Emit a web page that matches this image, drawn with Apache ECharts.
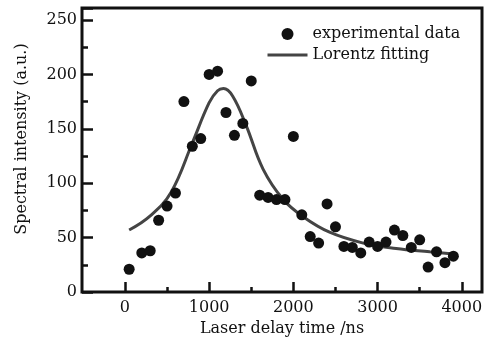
<!DOCTYPE html>
<html>
<head>
<meta charset="utf-8">
<script src="https://cdn.jsdelivr.net/npm/echarts@6/dist/echarts.min.js"></script>
<style>
  html, body { margin: 0; padding: 0; background: #fff; }
  #chart { width: 499px; height: 342px; }
</style>
</head>
<body>
<div id="chart"></div>
<script>
// measured points (delay time in ns, intensity in a.u.)
const delayTimes = [50, 200, 300, 400, 500, 600, 700, 800, 900, 1000, 1100, 1200, 1300, 1400, 1500,
  1600, 1700, 1800, 1900, 2000, 2100, 2200, 2300, 2400, 2500, 2600, 2700, 2800, 2900, 3000,
  3100, 3200, 3300, 3400, 3500, 3600, 3700, 3800, 3900]
const intensities = [21, 36, 38, 66, 79, 91, 175, 134, 141, 200, 203, 165, 144, 155, 194,
  89, 87, 85, 85, 143, 71, 51, 45, 81, 60, 42, 41, 36, 46, 42,
  46, 57, 52, 41, 48, 23, 37, 27, 33]

// Lorentz fitting curve
const fitX = [50, 300, 550, 800, 1000, 1100, 1170, 1280, 1440, 1640, 1880, 2120, 2430, 2830, 3220, 3620, 3900]
const fitY = [57, 70, 92, 137, 174, 185, 187, 180, 153, 113, 85, 69, 55, 45, 40, 37, 35]

const xLabels = [0, 1000, 2000, 3000, 4000]
const xMinorTicks = [500, 1500, 2500, 3500]

const serif = '"DejaVu Serif", "Liberation Serif", serif'
let myChart = echarts.init(document.getElementById('chart'))

let option = {
  backgroundColor: '#fff',
  animation: false,
  textStyle: { fontFamily: serif, color: '#111' },
  grid: {
    left: 82,
    right: 17,
    top: 8,
    bottom: 48,
    show: true,
    borderColor: '#111',
    borderWidth: 3,
    backgroundColor: 'transparent'
  },
  legend: {
    orient: 'vertical',
    left: 261,
    top: 21,
    itemWidth: 40,
    itemHeight: 12,
    itemGap: 5,
    textStyle: { fontFamily: serif, fontSize: 16, color: '#111' },
    data: [
      { name: 'experimental data', icon: 'circle', itemStyle: { color: '#111', opacity: 1 } },
      { name: 'Lorentz fitting', icon: 'line', itemStyle: { color: '#444', borderColor: '#444', borderWidth: 3 } }
    ]
  },
  xAxis: [{
    type: 'value',
    min: -510,
    max: 4240,
    name: 'Laser delay time /ns',
    nameLocation: 'middle',
    nameGap: 26,
    nameTextStyle: { fontFamily: serif, fontSize: 16, color: '#111' },
    splitLine: { show: false },
    axisLine: { show: false, onZero: false },
    axisTick: {
      inside: true,
      length: 10,
      customValues: xLabels,
      lineStyle: { color: '#111', width: 2.5 }
    },
    axisLabel: {
      customValues: xLabels,
      margin: 8,
      fontFamily: serif,
      fontSize: 16,
      color: '#111',
      formatter: v => String(v)
    }
  }, {
    type: 'value',
    min: -510,
    max: 4240,
    position: 'bottom',
    splitLine: { show: false },
    axisLine: { show: false, onZero: false },
    axisLabel: { show: false },
    axisTick: {
      inside: true,
      length: 5,
      customValues: xMinorTicks,
      lineStyle: { color: '#111', width: 2.5 }
    }
  }],
  yAxis: {
    type: 'value',
    min: 0,
    max: 261,
    interval: 50,
    name: 'Spectral intensity (a.u.)',
    nameLocation: 'middle',
    nameGap: 52,
    nameTextStyle: { fontFamily: serif, fontSize: 16, color: '#111', padding: [0, 0, 0, 22] },
    splitLine: { show: false },
    axisLine: { show: false, onZero: false },
    axisTick: {
      inside: true,
      length: 11,
      lineStyle: { color: '#111', width: 2.5 }
    },
    minorTick: {
      show: true,
      splitNumber: 2,
      length: 6,
      lineStyle: { color: '#111', width: 2.5 }
    },
    axisLabel: {
      margin: 5,
      fontFamily: serif,
      fontSize: 16,
      color: '#111'
    }
  },
  series: [{
    name: 'experimental data',
    type: 'scatter',
    symbol: 'circle',
    symbolSize: 11,
    itemStyle: { color: '#111', opacity: 1 },
    data: delayTimes.map((t, i) => [t, intensities[i]]),
    z: 3
  }, {
    name: 'Lorentz fitting',
    type: 'line',
    smooth: 0.4,
    showSymbol: false,
    symbol: 'none',
    lineStyle: { color: '#444', width: 3 },
    itemStyle: { color: '#444' },
    data: fitX.map((t, i) => [t, fitY[i]]),
    z: 2
  }]
}

myChart.setOption(option)
</script>
</body>
</html>
